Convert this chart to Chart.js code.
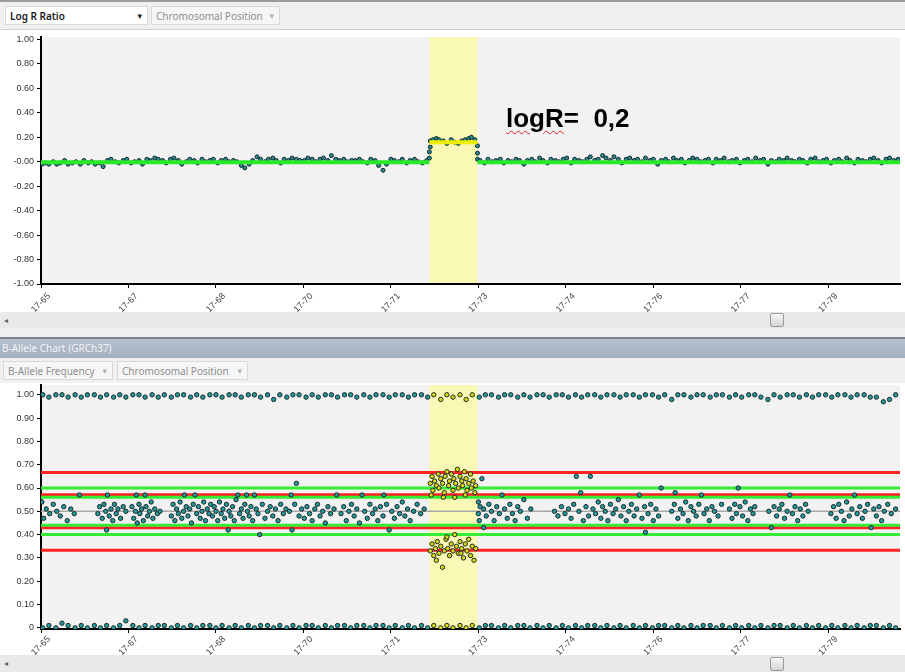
<!DOCTYPE html>
<html>
<head>
<meta charset="utf-8">
<script src="https://cdn.jsdelivr.net/npm/chart.js@4.4.1/dist/chart.umd.min.js"></script>
<style>
  body { margin: 0; width: 905px; height: 672px; overflow: hidden; background: #fff; position: relative; font-family: "Noto Sans", "DejaVu Sans", sans-serif; }
  .line-top { position: absolute; left: 0; top: 0; width: 905px; height: 2px; background: #9c9c9c; }
  .strip { position: absolute; left: 0; width: 905px; background: #f0f0f0; }
  .combo { position: absolute; height: 19px; line-height: 18px; font-size: 10px; box-sizing: border-box; padding-left: 4px; border: 1px solid #d8d8d8; }
  .combo .arr { position: absolute; right: 5px; top: 0; font-size: 9px; }
  .on { background: #fff; color: #1a1a1a; font-weight: 600; }
  .off { background: #f6f6f6; color: #8e8e8e; }
  .off .arr { color: #b4b4b4; }
  .hscroll { position: absolute; left: 0; width: 905px; background: #e9e9e9; }
  .hscroll .larr { position: absolute; left: 4px; top: 2px; font-size: 8px; color: #666; }
  .hscroll .thumb { position: absolute; left: 770px; top: 1px; width: 14px; height: 14px; box-sizing: border-box; border: 1px solid #9a9a9a; border-radius: 2px; background: linear-gradient(#f6f6f6, #d6d6d6); }
  .title { position: absolute; left: 0; top: 337px; width: 905px; height: 21px; box-sizing: border-box; border-top: 2px solid #7b848f; background: linear-gradient(#b6c1ce, #a2afbe); color: #f2f4f7; font-size: 10px; line-height: 18px; padding-left: 2px; }
  canvas { position: absolute; left: 0; }
  .note { position: absolute; left: 506px; top: 103px; font: bold 26px "Liberation Sans", Arial, sans-serif; color: #000; white-space: pre; }
  .note u { text-decoration: underline wavy #e02020; text-decoration-thickness: 1px; text-underline-offset: 3px; }
</style>
</head>
<body>
<div class="line-top"></div>
<div class="strip" style="top:2px;height:27px;border-bottom:1px solid #cfcfcf;"></div>
<div class="combo on" style="left:5px;top:6px;width:143px;">Log R Ratio<span class="arr">▾</span></div>
<div class="combo off" style="left:151px;top:6px;width:129px;">Chromosomal Position<span class="arr">▾</span></div>

<canvas id="lrrChart" width="905" height="287" style="top:25px;"></canvas>
<div class="note"><u>logR</u>=  0,2</div>

<div class="hscroll" style="top:312px;height:16px;"><span class="larr">◂</span><div class="thumb"></div></div>
<div class="strip" style="top:328px;height:9px;"></div>
<div class="title">B-Allele Chart (GRCh37)</div>
<div class="strip" style="top:358px;height:25px;"></div>
<div class="combo off" style="left:3px;top:361px;width:110px;">B-Allele Frequency<span class="arr">▾</span></div>
<div class="combo off" style="left:117px;top:361px;width:131px;">Chromosomal Position<span class="arr">▾</span></div>

<canvas id="bafChart" width="905" height="282" style="top:373px;"></canvas>
<div class="hscroll" style="top:655px;height:17px;"><span class="larr">◂</span><div class="thumb" style="top:2px;"></div></div>

<script>
// x axis: chromosome 17 position (tick index), labels as shown
const posTicks = [0, 1, 2, 3, 4, 5, 6, 7, 8, 9];
const posLabels = ["17-65", "17-67", "17-68", "17-70", "17-71", "17-73", "17-74", "17-76", "17-77", "17-79"];
const posMax = 9.82;
const hlStart = 4.44;
const hlEnd = 4.99;

const lrrTicks = [-1, -0.8, -0.6, -0.4, -0.2, 0, 0.2, 0.4, 0.6, 0.8, 1];
const bafTicks = [0, 0.1, 0.2, 0.3, 0.4, 0.5, 0.6, 0.7, 0.8, 0.9, 1];

// segmented Log R levels
const segStarts = [0, 4.44, 4.99];
const segEnds = [4.44, 4.99, 9.82];
const segLevels = [-0.005, 0.16, -0.005];

// B-allele reference lines
const redLevels = [0.667, 0.571, 0.429, 0.333];
const greenLevels = [0.6, 0.56, 0.44, 0.4];
const midLevel = 0.5;

// Log R Ratio probes
const lrrPos = [
  0.01,0.05,0.09,0.14,0.18,0.22,0.27,0.31,0.36,0.40,
  0.45,0.49,0.54,0.58,0.62,0.67,0.71,0.76,0.80,0.85,
  0.89,0.94,0.98,1.03,1.07,1.12,1.16,1.21,1.25,1.30,
  1.34,1.39,1.43,1.48,1.52,1.57,1.61,1.66,1.70,1.75,
  1.79,1.84,1.88,1.93,1.97,2.02,2.06,2.11,2.15,2.20,
  2.24,2.29,2.33,2.38,2.42,2.47,2.51,2.56,2.60,2.65,
  2.69,2.74,2.78,2.83,2.87,2.92,2.96,3.01,3.05,3.10,
  3.14,3.19,3.23,3.28,3.32,3.37,3.41,3.46,3.50,3.55,
  3.59,3.64,3.68,3.73,3.77,3.82,3.86,3.91,3.95,4.00,
  4.04,4.09,4.13,4.18,4.22,4.27,4.31,4.36,4.41,
  4.44,4.44,4.45,4.45,4.48,4.52,4.55,4.60,4.64,4.69,
  4.73,4.77,4.81,4.85,4.89,4.92,4.96,4.99,4.99,4.99,
  5.02,5.07,5.11,5.16,5.20,5.25,5.29,5.34,5.38,5.43,
  5.47,5.52,5.56,5.61,5.65,5.70,5.74,5.79,5.83,5.88,
  5.92,5.97,6.01,6.06,6.10,6.15,6.19,6.24,6.28,6.33,
  6.37,6.42,6.46,6.51,6.55,6.60,6.64,6.69,6.73,6.78,
  6.82,6.87,6.91,6.96,7.00,7.05,7.09,7.14,7.18,7.23,
  7.27,7.32,7.36,7.41,7.45,7.50,7.54,7.59,7.63,7.68,
  7.72,7.77,7.81,7.86,7.90,7.95,7.99,8.04,8.08,8.13,
  8.17,8.22,8.26,8.31,8.35,8.40,8.44,8.49,8.53,8.58,
  8.62,8.67,8.71,8.76,8.80,8.85,8.89,8.94,8.98,9.03,
  9.07,9.12,9.16,9.21,9.25,9.30,9.34,9.39,9.43,9.48,
  9.52,9.57,9.61,9.66,9.70,9.75,9.80,
];
const lrrVal = [
  -0.02,-0.01,-0.02,0.00,-0.02,-0.01,0.01,-0.02,-0.01,0.00,
  -0.02,0.01,-0.01,0.00,-0.02,-0.01,-0.04,0.01,0.02,0.00,
  -0.01,0.01,0.02,-0.01,0.00,0.01,-0.02,0.02,0.01,0.03,
  0.02,0.01,-0.01,0.02,0.03,0.01,-0.02,0.00,0.02,0.01,
  -0.01,0.02,0.00,0.01,0.02,-0.01,0.01,0.02,0.00,0.01,
  0.00,-0.03,-0.05,-0.02,0.01,0.04,0.02,0.00,0.02,0.03,
  0.01,-0.01,0.02,0.01,0.03,0.02,0.01,0.01,0.03,0.02,
  0.00,0.02,0.03,0.01,0.05,0.02,0.01,0.02,0.00,0.01,
  0.01,0.02,0.00,-0.01,0.02,0.01,-0.03,-0.07,-0.02,0.02,
  0.01,0.00,0.02,-0.01,0.01,0.02,0.00,-0.01,0.01,
  0.03,0.08,0.12,0.17,0.18,0.19,0.18,0.17,0.15,0.18,
  0.16,0.15,0.17,0.18,0.19,0.20,0.18,0.13,0.07,0.02,
  0.01,-0.01,0.02,0.00,0.01,0.02,-0.01,0.01,0.00,0.02,
  0.01,-0.02,0.01,0.02,0.00,0.03,0.01,-0.01,0.02,0.01,
  0.00,0.02,0.03,-0.01,0.02,0.01,0.00,0.02,0.04,0.01,
  0.02,0.05,0.03,0.01,0.04,0.02,-0.01,0.02,0.03,0.01,
  0.02,0.00,0.03,0.01,0.02,-0.02,0.01,0.02,0.00,0.03,
  0.01,0.02,-0.01,0.01,0.03,0.02,0.00,0.01,0.02,-0.01,
  0.02,0.01,0.03,0.00,0.01,0.02,-0.01,0.01,0.02,0.00,
  0.03,0.01,0.02,-0.02,0.01,0.00,0.02,0.01,0.03,0.01,
  0.00,0.02,0.01,-0.01,0.02,0.03,0.00,0.01,0.02,-0.01,
  0.01,0.02,0.00,0.03,0.01,-0.01,0.02,0.01,0.00,0.02,
  0.03,0.01,-0.01,0.02,0.03,0.01,0.02,
];

// homozygous probes (BAF near 1 and near 0), same positions
const edgePos = [
  0.02,0.09,0.17,0.24,0.31,0.39,0.46,0.53,0.61,0.68,
  0.75,0.83,0.90,0.97,1.05,1.12,1.19,1.27,1.34,1.41,
  1.49,1.56,1.63,1.71,1.78,1.85,1.93,2.00,2.07,2.15,
  2.22,2.29,2.37,2.44,2.51,2.59,2.66,2.73,2.81,2.88,
  2.95,3.03,3.10,3.17,3.25,3.32,3.39,3.47,3.54,3.61,
  3.69,3.76,3.83,3.91,3.98,4.05,4.13,4.20,4.27,4.35,
  4.42,4.49,4.57,4.64,4.71,4.79,4.86,4.93,5.01,5.08,
  5.15,5.23,5.30,5.37,5.45,5.52,5.59,5.67,5.74,5.81,
  5.89,5.96,6.03,6.11,6.18,6.25,6.33,6.40,6.47,6.55,
  6.62,6.69,6.77,6.84,6.91,6.99,7.06,7.13,7.21,7.28,
  7.35,7.43,7.50,7.57,7.65,7.72,7.79,7.87,7.94,8.01,
  8.09,8.16,8.23,8.31,8.38,8.45,8.53,8.60,8.67,8.75,
  8.82,8.89,8.97,9.04,9.11,9.19,9.26,9.33,9.41,9.48,
  9.55,9.63,9.70,9.77,
];
const bafHighVal = [
  1.00,0.99,1.00,1.00,0.99,1.00,0.99,1.00,1.00,0.99,
  1.00,0.99,1.00,0.99,1.00,1.00,0.99,1.00,0.99,1.00,
  0.99,1.00,1.00,0.99,1.00,0.99,1.00,1.00,0.99,1.00,
  1.00,0.99,1.00,1.00,0.99,1.00,0.98,1.00,0.99,1.00,
  1.00,0.99,1.00,0.99,1.00,1.00,0.99,1.00,1.00,0.99,
  1.00,0.99,1.00,1.00,0.99,1.00,1.00,0.99,1.00,1.00,
  0.99,1.00,0.98,1.00,0.99,1.00,0.98,1.00,0.99,1.00,
  1.00,0.99,1.00,1.00,0.99,1.00,0.99,1.00,1.00,0.99,
  1.00,1.00,0.99,1.00,0.99,1.00,1.00,0.99,1.00,1.00,
  0.99,1.00,1.00,0.99,1.00,1.00,0.99,1.00,0.98,1.00,
  1.00,0.99,1.00,1.00,0.99,1.00,1.00,0.99,1.00,0.99,
  1.00,1.00,0.99,0.98,1.00,0.99,1.00,1.00,0.99,1.00,
  0.99,1.00,1.00,0.99,1.00,1.00,0.99,1.00,1.00,0.99,
  0.99,0.97,0.98,1.00,
];
const bafLowVal = [
  0.00,0.01,0.00,0.02,0.01,0.00,0.01,0.00,0.01,0.00,
  0.01,0.00,0.01,0.03,0.01,0.00,0.01,0.00,0.01,0.01,
  0.00,0.01,0.00,0.01,0.00,0.01,0.01,0.00,0.01,0.00,
  0.01,0.00,0.01,0.00,0.01,0.01,0.00,0.01,0.00,0.01,
  0.00,0.01,0.01,0.00,0.01,0.00,0.01,0.01,0.00,0.01,
  0.01,0.00,0.01,0.01,0.00,0.01,0.00,0.01,0.00,0.01,
  0.00,0.01,0.00,0.01,0.00,0.01,0.00,0.01,0.00,0.01,
  0.01,0.00,0.01,0.00,0.01,0.01,0.00,0.01,0.00,0.01,
  0.00,0.01,0.00,0.01,0.00,0.01,0.01,0.00,0.01,0.00,
  0.01,0.00,0.01,0.00,0.01,0.00,0.01,0.01,0.00,0.01,
  0.00,0.01,0.00,0.01,0.01,0.00,0.01,0.00,0.01,0.00,
  0.01,0.00,0.01,0.00,0.01,0.01,0.00,0.01,0.00,0.01,
  0.00,0.01,0.00,0.01,0.00,0.01,0.00,0.01,0.00,0.01,
  0.01,0.00,0.01,0.00,
];

// heterozygous probes around 0.5
const hetPos = [
  0.01,0.03,0.06,0.10,0.14,0.18,0.22,0.26,0.30,0.34,0.38,0.44,
  0.65,0.67,0.70,0.72,0.74,0.75,0.76,0.78,0.80,0.82,0.84,0.86,0.88,0.91,0.94,0.97,
  1.04,1.06,1.08,1.09,1.10,1.12,1.13,1.15,1.17,1.19,1.20,1.22,1.24,1.26,1.28,1.30,1.33,1.36,
  1.49,1.51,1.53,1.55,1.57,1.59,1.61,1.63,1.64,1.66,
  1.68,1.70,1.72,1.74,1.76,1.78,1.80,1.82,1.84,1.86,
  1.88,1.90,1.92,1.94,1.96,1.98,2.00,2.02,2.04,2.06,
  2.08,2.10,2.12,2.14,2.15,2.17,2.19,2.21,2.23,2.25,
  2.27,2.29,2.31,2.33,2.35,2.36,2.38,2.40,2.42,2.44,
  2.46,2.48,2.50,2.53,2.56,2.59,2.62,2.65,2.68,2.71,
  2.74,2.77,2.80,
  2.84,2.86,2.87,2.90,2.92,2.95,2.98,3.01,3.04,3.07,3.10,3.13,3.16,3.19,3.22,3.25,3.28,3.31,3.35,3.38,
  3.43,3.46,3.49,3.52,3.55,3.58,3.61,3.64,3.67,3.70,3.73,3.76,3.79,3.82,3.85,3.88,
  3.91,3.92,3.95,3.98,4.01,4.04,4.07,4.10,4.13,4.16,4.19,4.22,4.26,4.30,4.34,4.38,
  5.00,5.00,5.01,5.02,5.04,5.06,5.06,5.09,5.12,5.15,5.18,5.21,5.24,5.27,5.30,5.33,5.36,5.39,5.42,5.45,5.48,5.52,5.56,5.60,
  5.87,5.91,5.95,5.99,6.03,6.06,6.09,6.12,6.15,6.17,
  6.20,6.23,6.26,6.28,6.31,6.34,6.37,6.40,6.42,6.45,
  6.48,6.51,6.54,6.57,6.60,6.63,6.66,6.69,6.72,6.75,
  6.78,6.81,6.84,6.87,6.90,6.91,6.94,6.97,7.00,7.03,
  7.06,7.09,
  7.21,7.24,7.25,7.28,7.31,7.34,7.37,7.40,7.43,7.46,7.49,7.52,7.55,7.58,7.61,7.64,7.67,7.70,7.74,7.78,
  7.87,7.90,7.93,7.95,7.97,7.99,8.02,8.05,8.08,8.11,8.14,8.16,
  8.32,8.35,8.38,8.41,8.44,8.47,8.50,8.53,8.56,8.59,8.62,8.65,8.68,8.71,8.74,8.77,
  9.03,9.06,9.09,9.12,9.15,9.18,9.21,9.24,9.27,9.30,9.33,9.36,9.39,9.42,9.45,9.49,9.52,9.55,9.58,9.61,9.64,9.68,9.72,9.77,
];
const hetVal = [
  0.54,0.47,0.51,0.49,0.53,0.50,0.48,0.52,0.46,0.51,0.49,0.57,
  0.49,0.52,0.47,0.53,0.50,0.42,0.57,0.48,0.51,0.46,0.53,0.49,0.51,0.47,0.52,0.50,
  0.52,0.47,0.50,0.57,0.45,0.53,0.49,0.51,0.46,0.57,0.52,0.48,0.50,0.54,0.47,0.51,0.49,0.50,
  0.48,0.53,0.46,0.51,0.49,0.54,0.47,0.50,0.57,0.52,
  0.48,0.51,0.45,0.53,0.57,0.49,0.52,0.47,0.50,0.54,
  0.46,0.51,0.49,0.53,0.48,0.52,0.50,0.46,0.54,0.49,
  0.51,0.47,0.53,0.42,0.50,0.48,0.52,0.46,0.55,0.57,
  0.49,0.51,0.47,0.53,0.57,0.50,0.48,0.52,0.46,0.57,
  0.51,0.49,0.40,0.53,0.47,0.50,0.52,0.48,0.51,0.46,
  0.53,0.49,0.51,
  0.50,0.57,0.42,0.53,0.62,0.48,0.51,0.47,0.52,0.49,0.46,0.51,0.53,0.48,0.50,0.45,0.52,0.49,0.51,0.57,
  0.49,0.52,0.46,0.50,0.53,0.48,0.51,0.45,0.57,0.50,0.47,0.53,0.49,0.51,0.46,0.52,
  0.48,0.57,0.53,0.42,0.50,0.47,0.52,0.49,0.54,0.48,0.51,0.46,0.50,0.53,0.49,0.51,
  0.54,0.49,0.46,0.52,0.64,0.43,0.51,0.48,0.53,0.50,0.46,0.52,0.49,0.57,0.51,0.47,0.53,0.49,0.46,0.52,0.50,0.55,0.47,0.51,
  0.50,0.48,0.52,0.49,0.51,0.47,0.53,0.65,0.50,0.58,
  0.46,0.52,0.48,0.65,0.51,0.49,0.54,0.47,0.52,0.50,
  0.46,0.53,0.49,0.51,0.55,0.48,0.52,0.46,0.50,0.53,
  0.48,0.51,0.57,0.47,0.52,0.41,0.49,0.53,0.46,0.51,
  0.48,0.60,
  0.50,0.53,0.58,0.47,0.51,0.49,0.54,0.46,0.52,0.50,0.48,0.53,0.57,0.49,0.51,0.46,0.52,0.50,0.48,0.53,
  0.51,0.47,0.53,0.49,0.60,0.52,0.48,0.54,0.46,0.51,0.49,0.52,
  0.50,0.43,0.52,0.48,0.51,0.53,0.47,0.50,0.57,0.49,0.52,0.46,0.51,0.48,0.53,0.50,
  0.49,0.52,0.47,0.53,0.50,0.46,0.54,0.48,0.51,0.57,0.49,0.52,0.47,0.50,0.53,0.43,0.51,0.48,0.52,0.46,0.50,0.53,0.49,0.51,
];

// split clusters inside the gained region
const gainUpPos = [
  4.45,4.47,4.48,4.50,4.52,4.54,4.55,4.57,4.59,4.61,
  4.62,4.64,4.66,4.67,4.69,4.71,4.72,4.74,4.76,4.77,
  4.79,4.81,4.82,4.84,4.86,4.87,4.89,4.91,4.92,4.94,
  4.96,4.97,4.46,4.60,4.73,4.85,
];
const gainUpVal = [
  0.62,0.65,0.59,0.63,0.61,0.66,0.60,0.64,0.62,0.58,
  0.65,0.67,0.61,0.63,0.66,0.59,0.64,0.62,0.68,0.60,
  0.65,0.63,0.61,0.67,0.64,0.59,0.62,0.66,0.60,0.63,
  0.58,0.61,0.57,0.56,0.56,0.57,
];
const gainLowPos = [
  4.45,4.47,4.49,4.51,4.53,4.55,4.57,4.59,4.61,4.63,
  4.65,4.67,4.69,4.71,4.73,4.75,4.77,4.79,4.81,4.83,
  4.85,4.87,4.89,4.91,4.93,4.95,4.97,4.52,4.64,4.80,
];
const gainLowVal = [
  0.33,0.36,0.31,0.34,0.37,0.32,0.35,0.26,0.33,0.38,
  0.34,0.31,0.36,0.33,0.40,0.35,0.32,0.37,0.34,0.30,
  0.36,0.33,0.38,0.31,0.35,0.29,0.34,0.29,0.39,0.32,
];

Chart.defaults.font.family = "'Liberation Sans', Arial, sans-serif";
Chart.defaults.color = "#333";

function pairs(xs, ys) {
  return xs.map((x, i) => ({ x: x, y: ys[i] }));
}
function hline(level, from, to) {
  return [{ x: from, y: level }, { x: to, y: level }];
}

// grey plot background + yellow highlighted region
const panelBg = {
  id: "panelBg",
  beforeDraw(chart) {
    const { ctx, chartArea: a, scales } = chart;
    const x0 = scales.x.getPixelForValue(hlStart);
    const x1 = scales.x.getPixelForValue(hlEnd);
    ctx.save();
    ctx.fillStyle = "#f2f2f2";
    ctx.fillRect(a.left, a.top, a.right - a.left, a.bottom - a.top);
    ctx.fillStyle = "#f9f8b4";
    ctx.fillRect(x0, a.top, x1 - x0, a.bottom - a.top);
    ctx.restore();
  },
};

function xAxis(height, pad) {
  return {
    type: "linear",
    min: 0,
    max: posMax,
    afterBuildTicks: (s) => { s.ticks = posTicks.map((v) => ({ value: v })); },
    afterFit: (s) => { s.height = height; },
    ticks: {
      callback: (v, i) => posLabels[i],
      autoSkip: false,
      minRotation: 45,
      maxRotation: 45,
      labelOffset: 8,
      font: { size: 9 },
      color: "#444",
      padding: pad,
    },
    grid: { drawOnChartArea: false, tickLength: 4, color: "#000" },
    border: { color: "#000", width: 2 },
  };
}

function yAxis(min, max, tickList, fmt) {
  return {
    min: min,
    max: max,
    afterBuildTicks: (s) => { s.ticks = tickList.map((v) => ({ value: v })); },
    afterFit: (s) => { s.width = 41; },
    ticks: { callback: fmt, font: { size: 9 }, padding: 3 },
    grid: { drawOnChartArea: false, tickLength: 4, color: "#000" },
    border: { color: "#000", width: 2 },
  };
}

const baseOpts = {
  responsive: false,
  animation: false,
  events: [],
  plugins: { legend: { display: false }, tooltip: { enabled: false } },
};

// Log R Ratio chart
const ctx1 = document.getElementById("lrrChart").getContext("2d");
new Chart(ctx1, {
  type: "scatter",
  data: {
    datasets: [
      ...segLevels.map((lvl, i) => ({
        data: hline(lvl, segStarts[i], segEnds[i]),
        showLine: true,
        pointRadius: 0,
        borderWidth: 4,
        borderColor: segStarts[i] >= hlStart && segEnds[i] <= hlEnd ? "#eeee00" : "#2ae82a",
      })),
      {
        data: pairs(lrrPos, lrrVal),
        pointRadius: 2,
        pointBorderWidth: 1,
        pointBackgroundColor: "#2a8e91",
        pointBorderColor: "#0f2526",
      },
    ],
  },
  options: {
    ...baseOpts,
    layout: { padding: { top: 12, right: 3, left: 0, bottom: 0 } },
    scales: {
      x: xAxis(28, 3),
      y: yAxis(-1, 1.02, lrrTicks, (v) => (v === 0 ? "-0.00" : v.toFixed(2))),
    },
  },
  plugins: [panelBg],
});

// B-Allele Frequency chart
const bafColor = (c) =>
  c.raw && c.raw.x >= hlStart && c.raw.x <= hlEnd ? "#d9d812" : "#23999c";

function bafPoints(xs, ys) {
  return {
    data: pairs(xs, ys),
    pointRadius: 2.2,
    pointBorderWidth: 1,
    pointBackgroundColor: bafColor,
    pointBorderColor: "#1b2b2b",
  };
}
function refLine(level, color, width) {
  return {
    data: hline(level, 0, posMax),
    showLine: true,
    pointRadius: 0,
    borderWidth: width,
    borderColor: color,
  };
}

const ctx2 = document.getElementById("bafChart").getContext("2d");
new Chart(ctx2, {
  type: "scatter",
  data: {
    datasets: [
      bafPoints(gainUpPos, gainUpVal),
      bafPoints(gainLowPos, gainLowVal),
      bafPoints(hetPos, hetVal),
      bafPoints(edgePos, bafHighVal),
      bafPoints(edgePos, bafLowVal),
      refLine(midLevel, "#a8a8a8", 1.5),
      ...greenLevels.map((l) => refLine(l, "#33ec33", 3)),
      ...redLevels.map((l) => refLine(l, "#ff2222", 3)),
    ],
  },
  options: {
    ...baseOpts,
    layout: { padding: { top: 12, right: 3, left: 0, bottom: 0 } },
    scales: {
      x: xAxis(26, 1),
      y: yAxis(-0.005, 1.042, bafTicks, (v) => (v === 0 ? "0" : v.toFixed(2))),
    },
  },
  plugins: [panelBg],
});
</script>
</body>
</html>
